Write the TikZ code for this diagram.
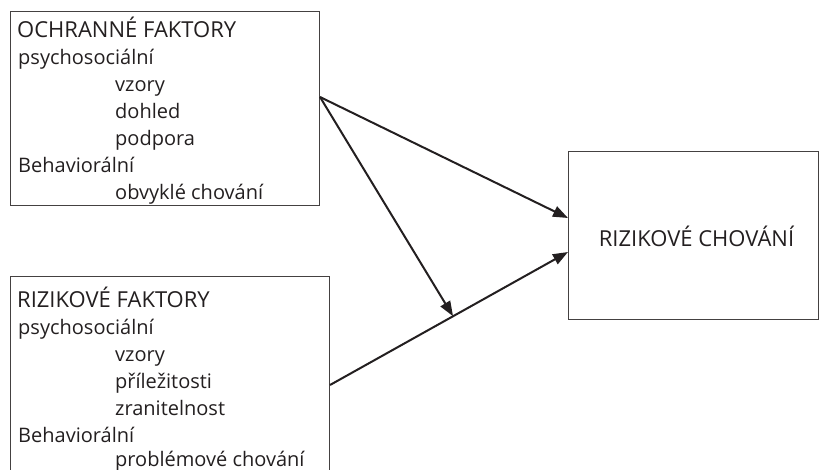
\documentclass[tikz,border=0pt]{standalone}
\usepackage{fontspec}
\setmainfont{Open Sans}
\usetikzlibrary{arrows.meta,calc}
\definecolor{ink}{HTML}{231F20}
\begin{document}
\begin{tikzpicture}[x=1pt,y=-1pt,
  boxnode/.style={draw=ink!85, line width=1pt, inner sep=0pt, anchor=north west},
  txt/.style={anchor=base west, inner sep=0pt, text=ink, font=\fontsize{20}{27}\selectfont},
  captxt/.style={txt, font=\fontsize{22}{27}\selectfont},
  arr/.style={draw=ink, line width=2pt, -{Triangle[length=15pt,width=11pt]}, shorten >=0pt}]
\useasboundingbox (0,0) rectangle (819,469);
% boxes
\node[boxnode, minimum width=309.5pt, minimum height=193.5pt] (prot) at (9.5,11) {};
\node[boxnode, minimum width=319.5pt, minimum height=220pt] (risk) at (9.5,276) {};
\node[boxnode, minimum width=250pt, minimum height=168pt] (beh) at (568,151) {};
\node[captxt, anchor=center] (behtext) at ($(beh.center)+(3,1)$) {RIZIKOVÉ CHOVÁNÍ};
% protective factors text
\node[captxt] (p1) at (17,37.5) {OCHRANNÉ FAKTORY};
\node[txt] (p2) at (18,64) {psychosociální};
\node[txt] (p3) at (115,91) {vzory};
\node[txt] (p4) at (115,118) {dohled};
\node[txt] (p5) at (115,145) {podpora};
\node[txt] (p6) at (18,172) {Behaviorální};
\node[txt] (p7) at (115,199) {obvyklé chování};
% risk factors text
\node[captxt] (r1) at (17,307) {RIZIKOVÉ FAKTORY};
\node[txt] (r2) at (18,334) {psychosociální};
\node[txt] (r3) at (115,361) {vzory};
\node[txt] (r4) at (115,388) {příležitosti};
\node[txt] (r5) at (115,415) {zranitelnost};
\node[txt] (r6) at (18,442) {Behaviorální};
\node[txt] (r7) at (115,466) {problémové chování};
% connector points
\coordinate (ps) at ($(prot.north east)+(0,86)$);
\coordinate (rs) at ($(risk.north east)+(0,109)$);
\coordinate (be1) at ($(beh.north west)+(0,67)$);
\coordinate (be2) at ($(beh.north west)+(0,101)$);
\coordinate (mid) at ($(rs)!0.517!(be2)$);
% arrows
\draw[arr] (ps) -- (be1);
\draw[arr] (rs) -- (be2);
\draw[arr] (ps) -- (mid);
\end{tikzpicture}
\end{document}
